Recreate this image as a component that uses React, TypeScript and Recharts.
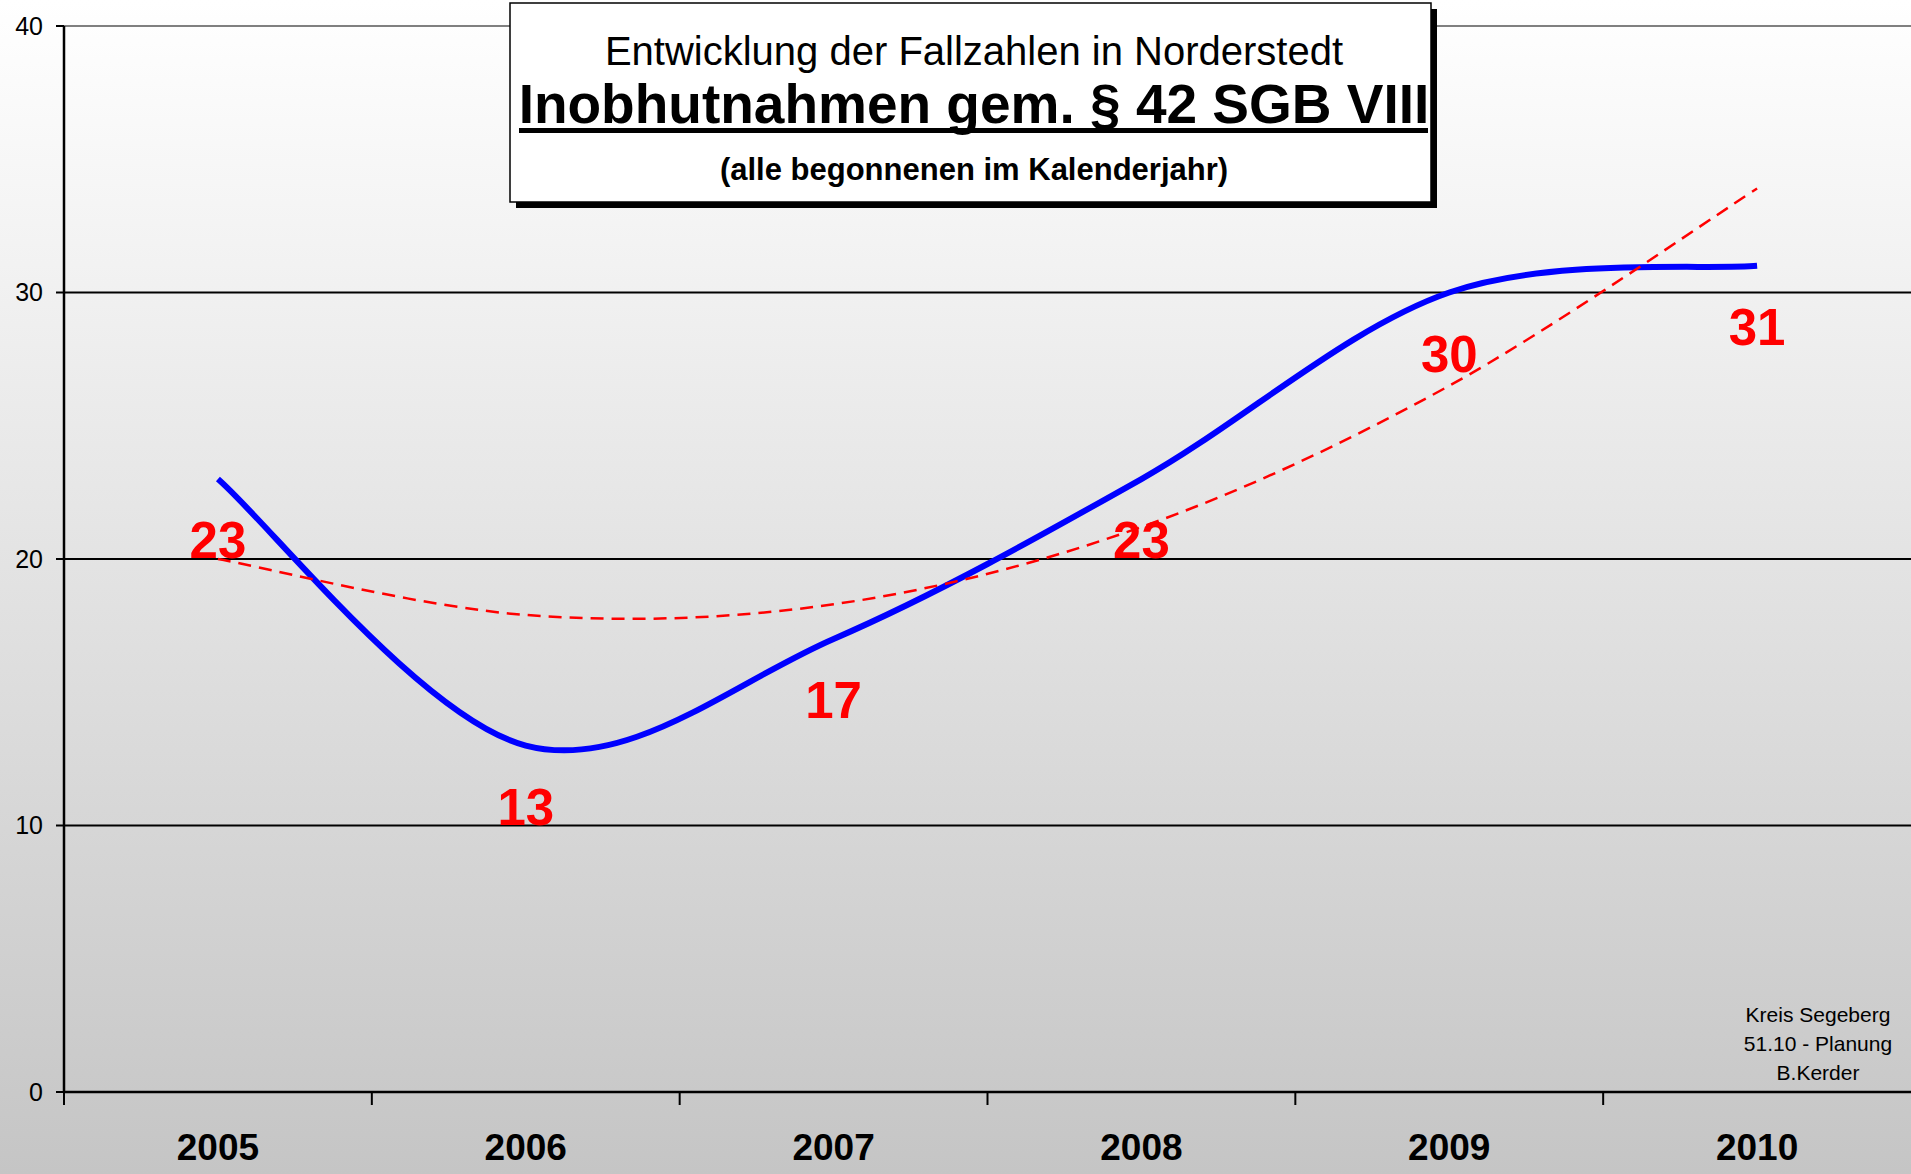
import React from 'react';
import {
  ComposedChart,
  Line,
  XAxis,
  YAxis,
  CartesianGrid,
  ReferenceLine,
} from 'recharts';

const years = ['2005', '2006', '2007', '2008', '2009', '2010'];
const cases = [23, 13, 17, 23, 30, 31];
const trend = [20.0, 17.9, 18.3, 21.2, 26.5, 33.9];
const yTicks = [0, 10, 20, 30, 40];
const gridValues = [10, 20, 30];

const titleTop = 'Entwicklung der Fallzahlen in Norderstedt';
const titleMain = 'Inobhutnahmen gem. § 42 SGB VIII';
const titleSub = '(alle begonnenen im Kalenderjahr)';
const footnote = ['Kreis Segeberg', '51.10 - Planung', 'B.Kerder'];

const data = years.map((year, i) => ({ year, cases: cases[i], trend: trend[i] }));

const W = 1911;
const H = 1174;
const AXIS_W = 64;
const BAND = (W - AXIS_W) / years.length;
const FONT = '"Liberation Sans", Arial, Helvetica, sans-serif';

// Excel-style smoothed line (bezier, control points at 1/6 of neighbour span)
const excelSmooth = (context: any) => {
  let pts: number[][] = [];
  return {
    areaStart() {},
    areaEnd() {},
    lineStart() {
      pts = [];
    },
    point(x: number, y: number) {
      pts.push([+x, +y]);
    },
    lineEnd() {
      const n = pts.length;
      if (!n) return;
      context.moveTo(pts[0][0], pts[0][1]);
      for (let i = 0; i < n - 1; i++) {
        const p0 = pts[i - 1] || pts[i];
        const p1 = pts[i];
        const p2 = pts[i + 1];
        const p3 = pts[i + 2] || p2;
        context.bezierCurveTo(
          p1[0] + (p2[0] - p0[0]) / 6,
          p1[1] + (p2[1] - p0[1]) / 6,
          p2[0] - (p3[0] - p1[0]) / 6,
          p2[1] - (p3[1] - p1[1]) / 6,
          p2[0],
          p2[1]
        );
      }
    },
  };
};

const YearTick = (props: any) => {
  const { x, y, payload } = props;
  const edge = x - BAND / 2;
  return (
    <g>
      <line x1={edge} x2={edge} y1={y} y2={y + 13} stroke="#000" strokeWidth={2} />
      <text
        x={x}
        y={y + 68}
        textAnchor="middle"
        fontFamily={FONT}
        fontWeight="bold"
        fontSize={37}
        fill="#000"
      >
        {payload.value}
      </text>
    </g>
  );
};

const ValueLabel = (props: any) => {
  const { x, y, value } = props;
  return (
    <text
      x={x}
      y={y + 79}
      textAnchor="middle"
      fontFamily={FONT}
      fontWeight="bold"
      fontSize={51}
      fill="#ff0000"
    >
      {value}
    </text>
  );
};

export default function App() {
  return (
    <div
      style={{
        position: 'absolute',
        left: 0,
        top: 0,
        width: W,
        height: H,
        overflow: 'hidden',
        background: 'linear-gradient(to bottom, #ffffff 0%, #c5c5c5 100%)',
        fontFamily: FONT,
      }}
    >
      <ComposedChart
        width={W}
        height={H}
        data={data}
        margin={{ top: 26, right: 0, bottom: 0, left: 0 }}
      >
        <CartesianGrid
          horizontal
          vertical={false}
          horizontalValues={gridValues}
          stroke="#000"
          strokeWidth={2}
        />
        <ReferenceLine y={40} stroke="#808080" strokeWidth={2} />
        <XAxis
          dataKey="year"
          scale="band"
          height={82}
          tickLine={false}
          tickSize={0}
          tickMargin={0}
          axisLine={{ stroke: '#000', strokeWidth: 2.5 }}
          tick={<YearTick />}
          interval={0}
        />
        <YAxis
          width={AXIS_W}
          domain={[0, 40]}
          ticks={yTicks}
          tickSize={8}
          tickMargin={13}
          axisLine={{ stroke: '#000', strokeWidth: 2.5 }}
          tickLine={{ stroke: '#000', strokeWidth: 2 }}
          tick={{ fill: '#000', fontSize: 25, fontFamily: FONT }}
        />
        <Line
          dataKey="cases"
          type={excelSmooth as any}
          stroke="#0000ff"
          strokeWidth={6}
          dot={false}
          activeDot={false}
          label={<ValueLabel />}
          isAnimationActive={false}
        />
        <Line
          dataKey="trend"
          type={excelSmooth as any}
          stroke="#ff0000"
          strokeWidth={2.5}
          strokeDasharray="13 8"
          dot={false}
          activeDot={false}
          isAnimationActive={false}
        />
      </ComposedChart>

      <svg
        width={W}
        height={H}
        style={{ position: 'absolute', left: 0, top: 0, pointerEvents: 'none' }}
      >
        <rect x={516} y={9} width={921} height={199} fill="#000" />
        <rect x={510} y={3} width={921} height={199} fill="#fff" stroke="#000" strokeWidth={1.5} />
        <text x={974} y={65} textAnchor="middle" fontFamily={FONT} fontSize={40} fill="#000">
          {titleTop}
        </text>
        <text
          x={974}
          y={123}
          textAnchor="middle"
          fontFamily={FONT}
          fontWeight="bold"
          fontSize={55}
          fill="#000"
        >
          {titleMain}
        </text>
        <rect x={519} y={128} width={909} height={5} fill="#000" />
        <text
          x={974}
          y={180}
          textAnchor="middle"
          fontFamily={FONT}
          fontWeight="bold"
          fontSize={31}
          fill="#000"
        >
          {titleSub}
        </text>
        {footnote.map((line, i) => (
          <text
            key={line}
            x={1818}
            y={1022 + i * 29}
            textAnchor="middle"
            fontFamily={FONT}
            fontSize={21}
            fill="#000"
          >
            {line}
          </text>
        ))}
      </svg>
    </div>
  );
}
